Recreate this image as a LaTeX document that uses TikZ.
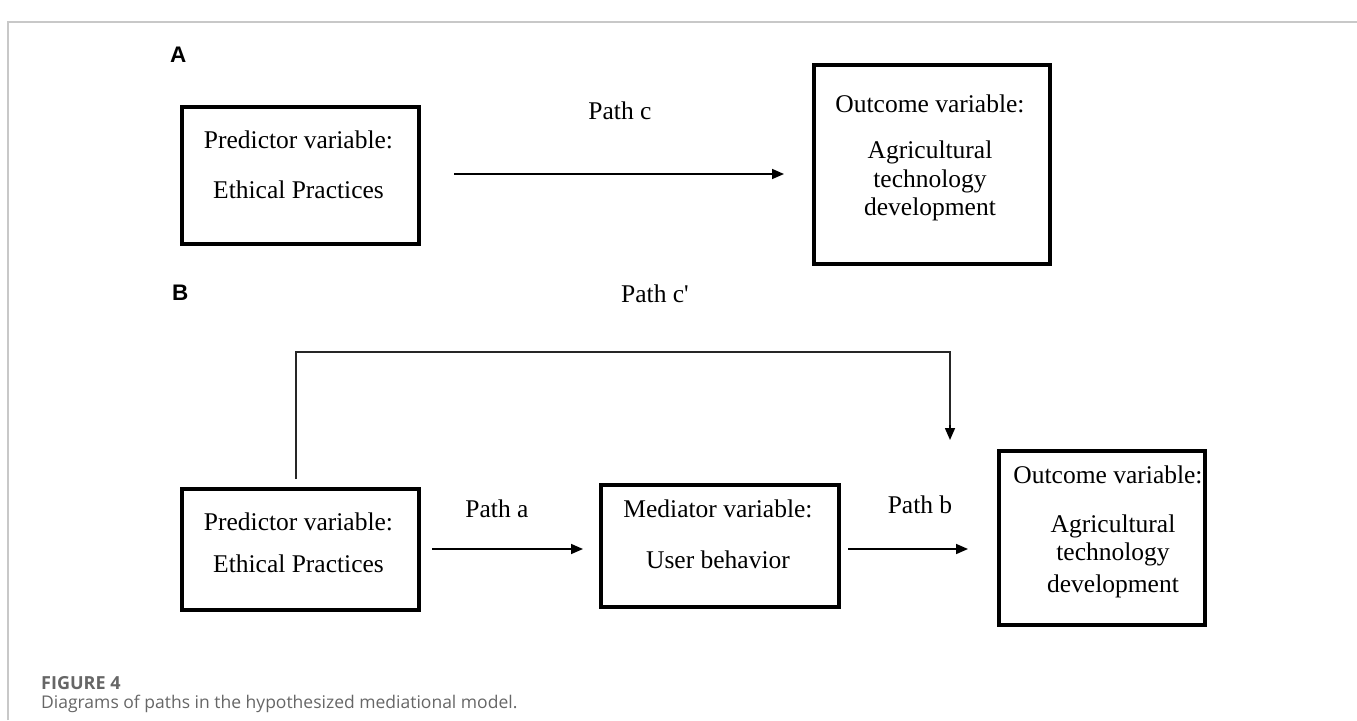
\documentclass[tikz,border=0pt]{standalone}
\usepackage{fontspec}
\setmainfont{Liberation Serif}
\newfontfamily\plainserif{Liberation Serif}
\newfontfamily\capfont{Open Sans}
\newfontfamily\labfont{Liberation Sans}
\usetikzlibrary{arrows.meta}
\definecolor{capgray}{HTML}{666666}
\definecolor{framegray}{HTML}{C8C8C8}
\begin{document}
\begin{tikzpicture}[x=1pt,y=-1pt,
  box/.style={draw, line width=3.5pt, inner sep=0pt, anchor=north west},
  txt/.style={font=\fontsize{25.5}{30}\selectfont, inner sep=0pt, anchor=base},
  lab/.style={font=\labfont\bfseries\fontsize{22.5}{26}\selectfont, inner sep=0pt, anchor=base west},
  arr/.style={line width=1.6pt, -{Triangle[length=12pt,width=10pt]}},
  conn/.style={line width=1.2pt, draw=black!85},
  captext/.style={font=\capfont\fontsize{17.5}{20}\selectfont, text=capgray, inner sep=0pt, anchor=base west}]
\useasboundingbox (0,0) rectangle (1357,720);
\draw[framegray, line width=1.2pt] (8,720) -- (8,22) -- (1357,22);
% panel A
\node[lab] (labA) at (170,62) {A};
\node[box, minimum width=237pt, minimum height=137pt] (pA) at (180,105) {};
\node[txt] (pA1) at (298.5,148) {Predictor variable:};
\node[txt] (pA2) at (298.5,198) {Ethical Practices};
\node[box, minimum width=236pt, minimum height=199pt] (oA) at (812,63) {};
\node[txt] (oA1) at (930,112) {Outcome variable:};
\node[txt] (oA2) at (930,158) {Agricultural};
\node[txt] (oA3) at (930,187) {technology};
\node[txt] (oA4) at (930,215) {development};
\coordinate (cS) at (454,174);
\coordinate (cE) at (784,174);
\draw[arr] (cS) -- (cE);
\node[txt] (pc) at (620,119) {Path c};
% panel B
\node[lab] (labB) at (172,300) {B};
\node[txt, font=\plainserif\fontsize{25.5}{30}\selectfont] (pcp) at (655,302) {Path c'};
\node[box, minimum width=237pt, minimum height=121pt] (pB) at (180,487) {};
\node[txt] (pB1) at (298.5,530) {Predictor variable:};
\node[txt] (pB2) at (298.5,572) {Ethical Practices};
\node[box, minimum width=238pt, minimum height=122pt] (mB) at (599,483) {};
\node[txt] (mB1) at (718,517) {Mediator variable:};
\node[txt] (mB2) at (718,568) {User behavior};
\node[box, minimum width=206pt, minimum height=174pt] (oB) at (997,449) {};
\node[txt] (oB1) at (1108,483) {Outcome variable:};
\node[txt] (oB2) at (1113,532) {Agricultural};
\node[txt] (oB3) at (1113,560) {technology};
\node[txt] (oB4) at (1113,592) {development};
\coordinate (aS) at (432,549);
\coordinate (aE) at (583,549);
\draw[arr] (aS) -- (aE);
\node[txt] (pa) at (497,517) {Path a};
\coordinate (bS) at (848,549);
\coordinate (bE) at (968,549);
\draw[arr] (bS) -- (bE);
\node[txt] (pb) at (920,513) {Path b};
\coordinate (cpS) at (296,479);
\coordinate (cpE) at (950,440);
\draw[conn] (cpS) -- (296,352) -| (950,428);
\draw[arr] (950,425) -- (cpE);
% caption
\node[captext, font=\capfont\bfseries\fontsize{18}{20}\selectfont] (fig) at (41,689) {FIGURE 4};
\node[captext] (capt) at (41,708) {Diagrams of paths in the hypothesized mediational model.};
\end{tikzpicture}
\end{document}
